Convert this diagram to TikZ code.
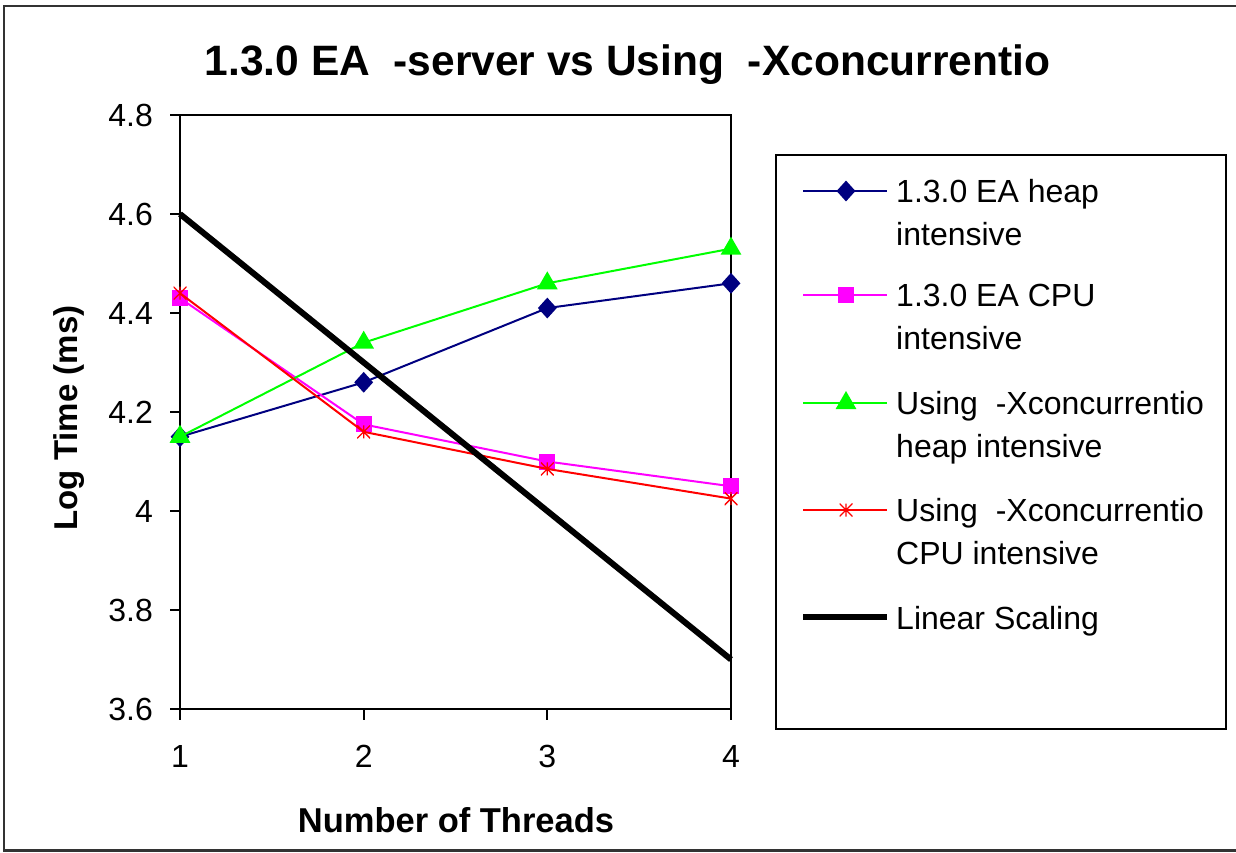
\documentclass[tikz,border=0pt]{standalone}
\usepackage{fontspec}
\setmainfont{Liberation Sans}
\usetikzlibrary{shapes.geometric}
\definecolor{navyc}{RGB}{0,0,128}
\definecolor{magc}{RGB}{255,0,255}
\definecolor{grnc}{RGB}{0,255,0}
\definecolor{redc}{RGB}{255,0,0}
\tikzset{
  lbl/.style={inner sep=0pt, font=\fontsize{32}{38}\selectfont},
  axlbl/.style={inner sep=0pt, font=\fontsize{33}{40}\selectfont\bfseries},
  xaxlbl/.style={inner sep=0pt, font=\fontsize{34.5}{40}\selectfont\bfseries},
  ttl/.style={inner sep=0pt, font=\fontsize{42.5}{50}\selectfont\bfseries},
  mdiam/.style={diamond, fill=navyc, inner sep=0pt, minimum width=19pt, minimum height=21pt},
  msq/.style={rectangle, fill=magc, inner sep=0pt, minimum size=16pt},
  mtri/.style={regular polygon, regular polygon sides=3, fill=grnc, inner sep=0pt, minimum size=24pt},
  mstar/.style={rectangle, inner sep=0pt, minimum size=13pt,
    path picture={\draw[redc, line width=1.3pt]
      (path picture bounding box.north west) -- (path picture bounding box.south east)
      (path picture bounding box.south west) -- (path picture bounding box.north east)
      (path picture bounding box.north) -- (path picture bounding box.south);}},
  sheap/.style={draw=navyc, line width=2pt},
  scpu/.style={draw=magc, line width=2pt},
  sxheap/.style={draw=grnc, line width=2pt},
  sxcpu/.style={draw=redc, line width=2pt},
  slin/.style={draw=black, line width=6pt},
  axis/.style={draw=black, line width=2pt},
}
\begin{document}
\begin{tikzpicture}[x=1pt,y=-1pt]
\useasboundingbox (0,0) rectangle (1236,852);
\fill[white] (0,0) rectangle (1236,852);
% outer frame (right side cut off)
\draw[line width=2.5pt, black!80] (1240,6) -- (4,6) -- (4,850.5) -- (1240,850.5);

% title
\node[ttl, anchor=base] (title) at (627.5,75) {1.3.0 EA\ \ -server vs Using\ \ -Xconcurrentio};

% plot area
\draw[axis] (180,115) rectangle (731,709);
\foreach \v/\y in {4.8/115,4.6/214,4.4/313,4.2/412,4/511,3.8/610,3.6/709}{
  \draw[axis] (170,\y) -- (180,\y);
  \node[lbl, anchor=east] (ytick\v) at (153,\y) {\v};
}
\foreach \n/\x in {1/180,2/363.7,3/547.3,4/731}{
  \draw[axis] (\x,709) -- (\x,720);
  \node[lbl, anchor=base] (xtick\n) at (\x,767) {\n};
}
\node[axlbl, rotate=90, anchor=center] (ylabel) at (69,418) {Log Time (ms)};
\node[xaxlbl, anchor=base] (xlabel) at (456,832) {Number of Threads};

% data coordinates
\coordinate (h1) at (180,436.75);
\coordinate (h2) at (363.7,382.3);
\coordinate (h3) at (547.3,308.05);
\coordinate (h4) at (731,283.3);
\coordinate (c1) at (180,298.15);
\coordinate (c2) at (363.7,424.4);
\coordinate (c3) at (547.3,461.5);
\coordinate (c4) at (731,486.25);
\coordinate (g1) at (180,436.75);
\coordinate (g2) at (363.7,342.7);
\coordinate (g3) at (547.3,283.3);
\coordinate (g4) at (731,248.65);
\coordinate (r1) at (180,293.2);
\coordinate (r2) at (363.7,431.8);
\coordinate (r3) at (547.3,468.9);
\coordinate (r4) at (731,498.6);
\coordinate (l1) at (180,214);
\coordinate (l2) at (363.7,362.5);
\coordinate (l3) at (547.3,511);
\coordinate (l4) at (731,659.5);

% series 1: heap (navy diamonds)
\draw[sheap] (h1) -- (h2) -- (h3) -- (h4);
\foreach \i in {1,...,4}{\node[mdiam] (mh\i) at (h\i) {};}
% series 2: CPU (magenta squares)
\draw[scpu] (c1) -- (c2) -- (c3) -- (c4);
\foreach \i in {1,...,4}{\node[msq] (mc\i) at (c\i) {};}
% series 3: Xconcurrentio heap (green triangles)
\draw[sxheap] (g1) -- (g2) -- (g3) -- (g4);
\foreach \i in {1,...,4}{\node[mtri] (mg\i) at (g\i) {};}
% series 4: Xconcurrentio CPU (red stars)
\draw[sxcpu] (r1) -- (r2) -- (r3) -- (r4);
\foreach \i in {1,...,4}{\node[mstar] (mr\i) at (r\i) {};}
% series 5: linear scaling
\draw[slin] (l1) -- (l2) -- (l3) -- (l4);

% legend
\draw[line width=2pt] (776,155) rectangle (1226,729);
\coordinate (la1) at (803,191); \coordinate (lb1) at (887,191);
\coordinate (la2) at (803,295); \coordinate (lb2) at (887,295);
\coordinate (la3) at (803,403); \coordinate (lb3) at (887,403);
\coordinate (la4) at (803,510); \coordinate (lb4) at (887,510);
\coordinate (la5) at (803,617); \coordinate (lb5) at (887,617);
\draw[sheap] (la1) -- (lb1); \node[mdiam] (lm1) at (846,191) {};
\draw[scpu] (la2) -- (lb2); \node[msq] (lm2) at (846,295) {};
\draw[sxheap] (la3) -- (lb3); \node[mtri] (lm3) at (846,403) {};
\draw[sxcpu] (la4) -- (lb4); \node[mstar] (lm4) at (846,510) {};
\draw[slin] (la5) -- (lb5);

\node[lbl, anchor=base west] (t1a) at (896,202) {1.3.0 EA heap};
\node[lbl, anchor=base west] (t1b) at (896,245) {intensive};
\node[lbl, anchor=base west] (t2a) at (896,306) {1.3.0 EA CPU};
\node[lbl, anchor=base west] (t2b) at (896,349) {intensive};
\node[lbl, anchor=base west] (t3a) at (896,414) {Using\ \ -Xconcurrentio};
\node[lbl, anchor=base west] (t3b) at (896,457) {heap intensive};
\node[lbl, anchor=base west] (t4a) at (896,521) {Using\ \ -Xconcurrentio};
\node[lbl, anchor=base west] (t4b) at (896,564) {CPU intensive};
\node[lbl, anchor=base west] (t5) at (896,629) {Linear Scaling};
\end{tikzpicture}
\end{document}
